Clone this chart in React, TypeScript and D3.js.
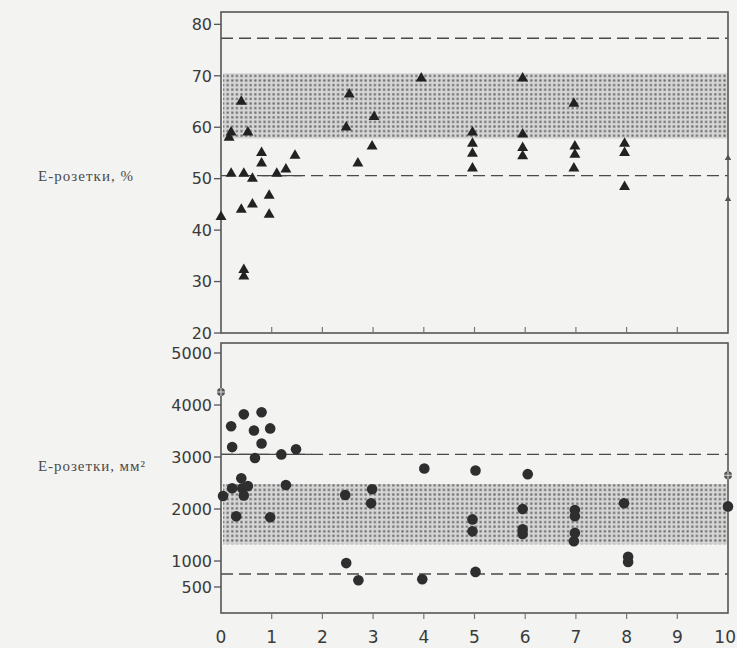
import React from "react";
import * as d3 from "d3";

// ---- data ----
const xTicks = [0, 1, 2, 3, 4, 5, 6, 7, 8, 9, 10];
const topYTicks = [20, 30, 40, 50, 60, 70, 80];
const botYTicks = [500, 1000, 2000, 3000, 4000, 5000];

const triX = [0.0, 0.16, 0.2, 0.2, 0.4, 0.4, 0.45, 0.45, 0.45, 0.53, 0.62, 0.62, 0.8, 0.8, 0.95, 0.95, 1.1, 1.28, 1.46,
  2.47, 2.53, 2.7, 2.98, 3.02, 3.95, 4.96, 4.96, 4.96, 4.96, 5.95, 5.95, 5.95, 5.95, 6.96, 6.98, 6.98, 6.96, 7.96, 7.96, 7.96];
const triY = [42.6, 58, 59, 51, 65, 44, 51, 32.3, 31, 59, 50, 45, 55, 53, 46.7, 43, 51, 51.8, 54.5,
  60, 66.4, 53, 56.3, 62, 69.5, 59, 56.8, 54.9, 52, 69.5, 58.6, 56, 54.4, 64.6, 56.3, 54.7, 52, 56.8, 55, 48.4];
const triEdgeX = [10, 10];
const triEdgeY = [54, 46];

const dotX = [0.04, 0.2, 0.22, 0.22, 0.3, 0.4, 0.42, 0.45, 0.45, 0.53, 0.65, 0.67, 0.8, 0.8, 0.97, 0.97, 1.19, 1.28, 1.48,
  2.45, 2.47, 2.71, 2.96, 2.98, 3.97, 4.01, 4.96, 4.96, 5.02, 5.02, 5.95, 5.95, 5.95, 6.05, 6.98, 6.98, 6.98, 6.96,
  7.95, 8.03, 8.03, 10];
const dotY = [2250, 3590, 3190, 2400, 1860, 2590, 2400, 3820, 2260, 2440, 3510, 2980, 3860, 3260, 3550, 1840, 3050, 2460, 3150,
  2270, 960, 630, 2110, 2380, 650, 2780, 1800, 1570, 2740, 790, 2000, 1610, 1520, 2670, 1980, 1860, 1540, 1380,
  2110, 1080, 980, 2050];
const crossX = [0, 10];
const crossY = [4250, 2650];

const topBand = [57.8, 70.5];
const topLines = [77.3, 50.6];
const botBand = [1320, 2480];
const botLines = [3050, 750];

const topLabel = "Е-розетки, %";
const botLabel = "Е-розетки, мм²";

export default function App() {
  const W = 737, H = 648;
  const x = d3.scaleLinear().domain([0, 10]).range([221, 728]);
  const yT = d3.scaleLinear().domain([20, 82.4]).range([333, 12]);
  const yB = d3.scaleLinear().domain([0, 5192]).range([613, 343]);
  const tri = d3.symbol().type(d3.symbolTriangle).size(52)();
  const triSmall = d3.symbol().type(d3.symbolTriangle).size(18)();
  const axisCol = "#555";
  const tickFont = { fontFamily: "DejaVu Sans", fontSize: 16, fill: "#3a3a3a" } as any;

  const band = (y0: number, y1: number, key: string) => (
    <rect key={key} x={x(0) + 2} y={y1} width={x(10) - x(0) - 3} height={y0 - y1} fill="url(#dots)" />
  );

  return (
    <svg width={W} height={H} style={{ position: "absolute", left: 0, top: 0 }}>
      <defs>
        <pattern id="dots" width={4.6} height={4.6} patternUnits="userSpaceOnUse">
          <rect width={4.6} height={4.6} fill="#d6d6d6" />
          <rect x={1.2} y={1.2} width={2.2} height={2.2} fill="#6a6a6a" />
        </pattern>
      </defs>
      <rect width={W} height={H} fill="#f3f3f1" />

      {/* left labels */}
      <text x={38} y={181} textLength={95} lengthAdjust="spacing"
        style={{ fontFamily: "Liberation Serif", fontSize: 15, fill: "#4a4a4a" }}>{topLabel}</text>
      <text x={38} y={471} textLength={107} lengthAdjust="spacing"
        style={{ fontFamily: "Liberation Serif", fontSize: 15, fill: "#4a4a4a" }}>{botLabel}</text>

      {/* ---- top panel ---- */}
      {band(yT(topBand[0]), yT(topBand[1]), "tb")}
      {topLines.map((v, i) => (
        <line key={"tl" + i} x1={x(0)} x2={x(10)} y1={yT(v)} y2={yT(v)} stroke="#4a4a4a" strokeWidth={1.3} strokeDasharray="12,6" />
      ))}
      <line x1={x(0.8)} x2={x(1.6)} y1={yT(topLines[1])} y2={yT(topLines[1])} stroke="#4a4a4a" strokeWidth={1.1} />
      <rect x={x(0)} y={yT(82.4)} width={x(10) - x(0)} height={yT(20) - yT(82.4)} fill="none" stroke={axisCol} strokeWidth={1.6} />
      {topYTicks.map((t) => (
        <g key={"ty" + t}>
          <line x1={x(0) - 7} x2={x(0)} y1={yT(t)} y2={yT(t)} stroke={axisCol} strokeWidth={1.3} />
          <text x={x(0) - 9} y={yT(t)} dy="0.36em" textAnchor="end" style={tickFont}>{t}</text>
        </g>
      ))}
      {xTicks.slice(1, 10).map((t) => (
        <line key={"tx" + t} x1={x(t)} x2={x(t)} y1={yT(20)} y2={yT(20) - 6} stroke="#777" strokeWidth={1.2} />
      ))}
      {triX.map((v, i) => (
        <path key={"tr" + i} d={tri} transform={`translate(${x(v)},${yT(triY[i])})`} fill="#222" />
      ))}
      {triEdgeX.map((v, i) => (
        <path key={"te" + i} d={triSmall} transform={`translate(${x(v)},${yT(triEdgeY[i])})`} fill="#555" />
      ))}

      {/* ---- bottom panel ---- */}
      {band(yB(botBand[0]), yB(botBand[1]), "bb")}
      {botLines.map((v, i) => (
        <line key={"bl" + i} x1={x(0)} x2={x(10)} y1={yB(v)} y2={yB(v)} stroke="#4a4a4a" strokeWidth={1.3} strokeDasharray="12,6" />
      ))}
      <line x1={x(0)} x2={x(1.8)} y1={yB(botLines[0])} y2={yB(botLines[0])} stroke="#4a4a4a" strokeWidth={1.1} />
      <rect x={x(0)} y={yB(5192)} width={x(10) - x(0)} height={yB(0) - yB(5192)} fill="none" stroke={axisCol} strokeWidth={1.6} />
      {botYTicks.map((t) => (
        <g key={"by" + t}>
          <line x1={x(0) - 7} x2={x(0)} y1={yB(t)} y2={yB(t)} stroke={axisCol} strokeWidth={1.3} />
          <text x={x(0) - 9} y={yB(t)} dy="0.36em" textAnchor="end" style={tickFont}>{t}</text>
        </g>
      ))}
      {xTicks.map((t) => (
        <g key={"bx" + t}>
          {t > 0 && t < 10 && <line x1={x(t)} x2={x(t)} y1={yB(0)} y2={yB(0) + 6} stroke="#777" strokeWidth={1.2} />}
          <text x={t === 10 ? 736 : x(t)} y={643} textAnchor={t === 10 ? "end" : "middle"} style={{ ...tickFont, fontSize: 17 }}>{t}</text>
        </g>
      ))}
      {dotX.map((v, i) => (
        <circle key={"d" + i} cx={x(v)} cy={yB(dotY[i])} r={5.3} fill="#2e2e2e" />
      ))}
      {crossX.map((v, i) => (
        <g key={"c" + i} transform={`translate(${x(v)},${yB(crossY[i])})`}>
          <circle r={4} fill="#555" />
          <line x1={-4} x2={4} stroke="#ddd" strokeWidth={1} />
          <line y1={-4} y2={4} stroke="#ddd" strokeWidth={1} />
        </g>
      ))}
    </svg>
  );
}
